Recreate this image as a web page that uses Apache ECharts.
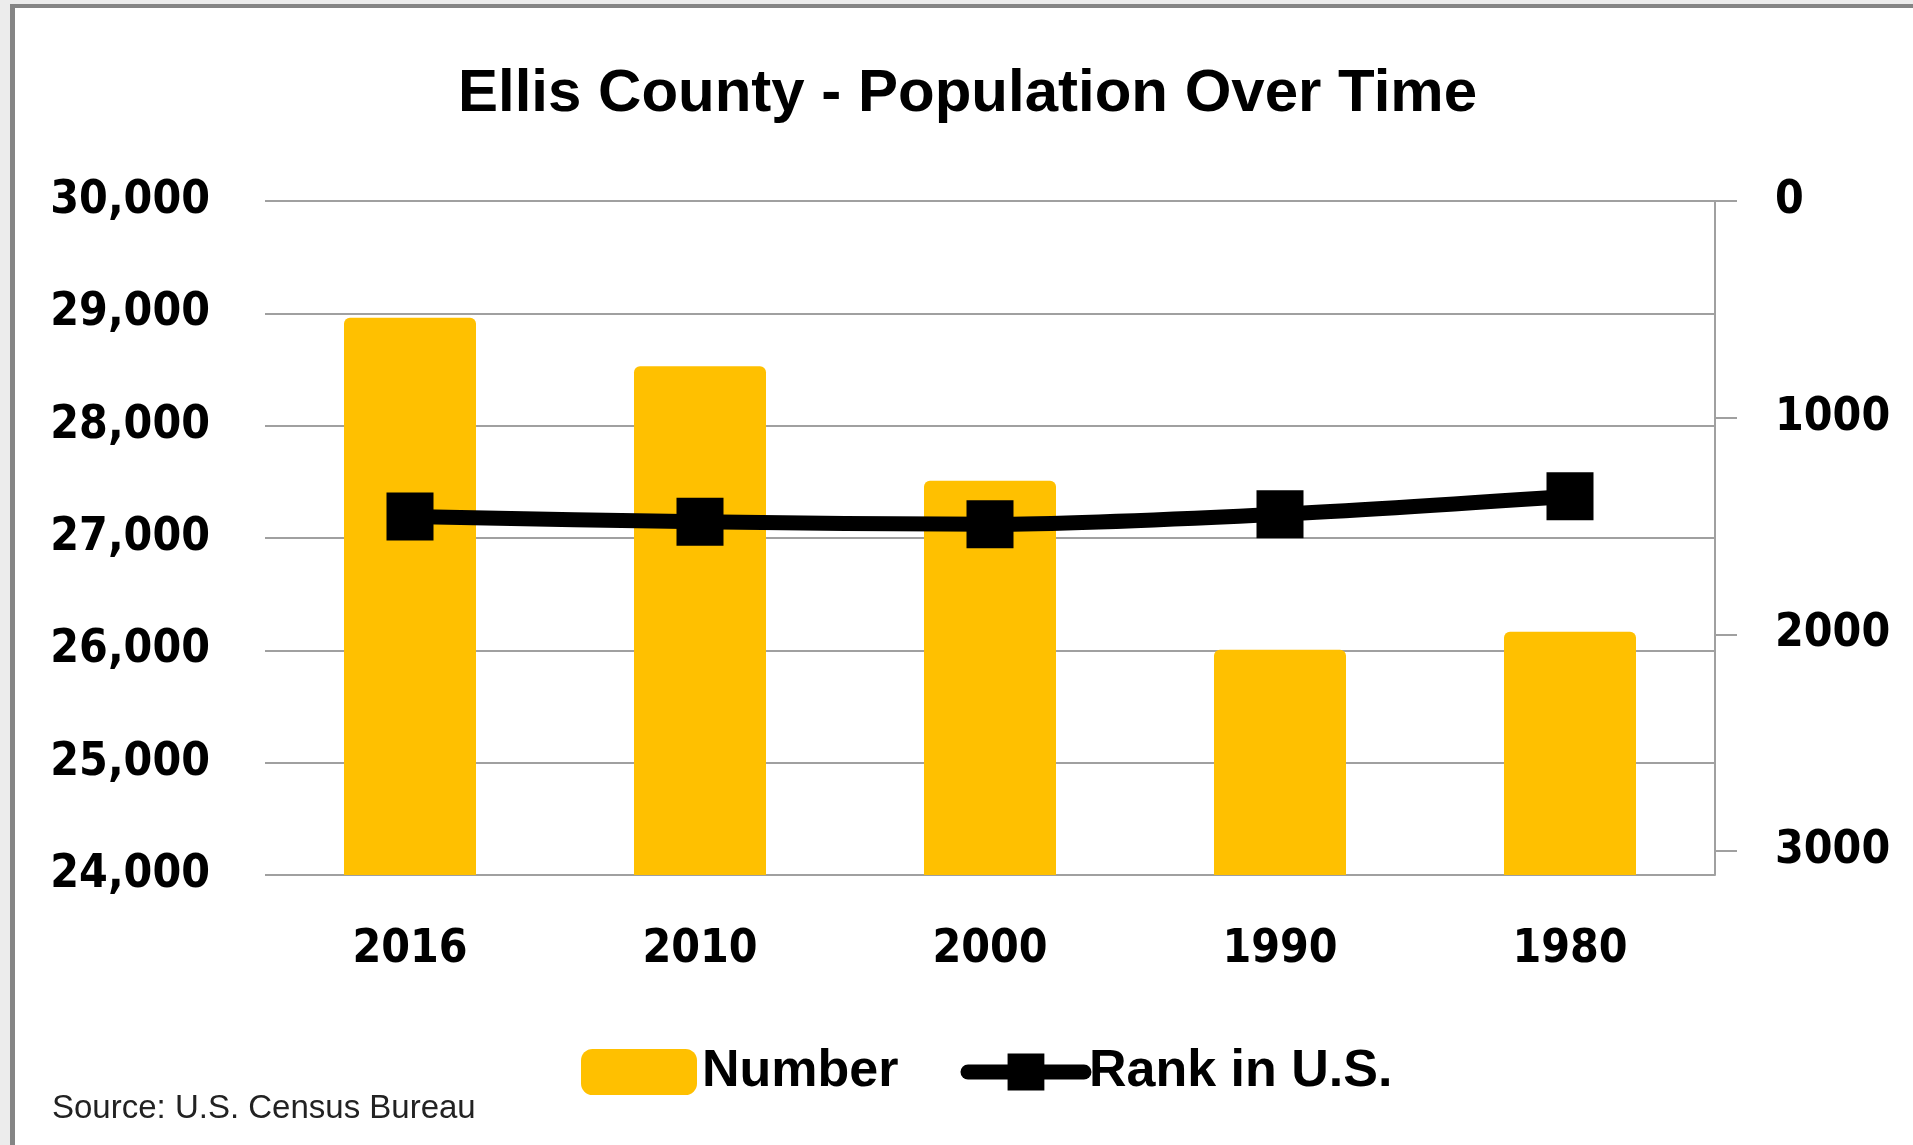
<!DOCTYPE html>
<html>
<head>
<meta charset="utf-8">
<title>Ellis County - Population Over Time</title>
<script src="https://cdn.jsdelivr.net/npm/echarts@6/dist/echarts.min.js"></script>
<style>
  html, body { margin: 0; padding: 0; background: #ececec; overflow: hidden; }
  #frame {
    position: absolute; left: 10px; top: 4px; right: 0; bottom: 0;
    border-top: 4px solid #858585; border-left: 5px solid #858585;
    background: #fff;
  }
  #chart { position: absolute; left: 0; top: 0; width: 1913px; height: 1145px; }
</style>
</head>
<body>
<div id="frame"></div>
<div id="chart"></div>
<script>
const years = ['2016', '2010', '2000', '1990', '1980']
const population = [28960, 28530, 27510, 26005, 26165]
const rankInUS = [1456, 1480, 1492, 1445, 1362]
const rankTicks = [0, 1000, 2000, 3000]

const textFont = "'Liberation Sans', Arial, sans-serif"
const axisFont = "'DejaVu Sans Condensed', 'DejaVu Sans', sans-serif"
const gridColor = '#a0a0a0'

const chart = echarts.init(document.getElementById('chart'))

const option = {
  animation: false,
  title: [
    {
      text: 'Ellis County - Population Over Time',
      left: 458,
      top: 64,
      padding: 0,
      textStyle: { fontFamily: textFont, fontSize: 60, fontWeight: 'bold', color: '#000' }
    },
    {
      text: 'Source: U.S. Census Bureau',
      left: 52,
      top: 1092,
      padding: 0,
      textStyle: { fontFamily: textFont, fontSize: 33, fontWeight: 'normal', color: '#222' }
    }
  ],
  legend: {
    left: 581,
    top: 1046,
    padding: 0,
    itemWidth: 116,
    itemHeight: 46,
    itemGap: 62,
    lineStyle: { width: 'inherit', cap: 'round' },
    textStyle: { fontFamily: textFont, fontSize: 52, fontWeight: 'bold', color: '#000' },
    data: ['Number', 'Rank in U.S.']
  },
  grid: { left: 265, right: 198, top: 201, bottom: 270, containLabel: false },
  xAxis: {
    type: 'category',
    data: years,
    axisLine: { show: false },
    axisTick: { show: false },
    axisLabel: { margin: 52, fontFamily: axisFont, fontSize: 46, fontWeight: 'bold', color: '#000' }
  },
  yAxis: [
    {
      type: 'value',
      min: 24000,
      max: 30000,
      interval: 1000,
      axisLine: { show: false },
      axisTick: { show: false },
      splitLine: { lineStyle: { color: gridColor, width: 2 } },
      axisLabel: {
        margin: 55,
        fontFamily: axisFont,
        fontSize: 46,
        fontWeight: 'bold',
        color: '#000',
        formatter: v => v.toLocaleString('en-US')
      }
    },
    {
      type: 'value',
      position: 'right',
      inverse: true,
      min: 0,
      max: 3110,
      interval: 1000,
      splitLine: { show: false },
      axisLine: { show: true, lineStyle: { color: gridColor, width: 2 } },
      axisTick: { show: true, length: 22, customValues: rankTicks, lineStyle: { color: gridColor, width: 2 } },
      axisLabel: {
        margin: 60,
        customValues: rankTicks,
        fontFamily: axisFont,
        fontSize: 46,
        fontWeight: 'bold',
        color: '#000',
        formatter: v => String(v)
      }
    }
  ],
  series: [
    {
      name: 'Number',
      type: 'bar',
      data: population,
      barWidth: 132,
      itemStyle: { color: '#FFC000', borderRadius: [6, 6, 0, 0] }
    },
    {
      name: 'Rank in U.S.',
      type: 'line',
      yAxisIndex: 1,
      data: rankInUS,
      smooth: 0.3,
      symbol: 'rect',
      symbolSize: [47, 48],
      lineStyle: { color: '#000', width: 15, cap: 'round' },
      itemStyle: { color: '#000' },
      z: 5
    }
  ]
}

chart.setOption(option)
</script>
</body>
</html>
